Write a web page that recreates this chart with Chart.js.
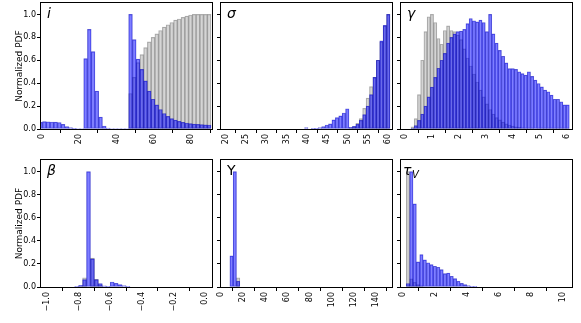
<!DOCTYPE html>
<html>
<head>
<meta charset="utf-8">
<script src="https://cdn.jsdelivr.net/npm/chart.js@4"></script>
<style>
  body { margin: 0; background: #fff; width: 581px; height: 323px; overflow: hidden; position: relative; }
  canvas { position: absolute; }
</style>
</head>
<body>
<canvas id="c-i"></canvas>
<canvas id="c-sigma"></canvas>
<canvas id="c-gamma"></canvas>
<canvas id="c-beta"></canvas>
<canvas id="c-ups"></canvas>
<canvas id="c-tau"></canvas>
<script>
// ---- data: histogram bins are [first bin centre, bin width] ----
const yTicks = [0, 0.2, 0.4, 0.6, 0.8, 1.0];

const iBins = [-0.5, 2];
const iTicks = [0, 20, 40, 60, 80];
const iBlue = [0.058, 0.065, 0.063, 0.061, 0.06, 0.057, 0.04, 0.022, 0.012, 0.006, 0.004, 0.004,
  0.615, 0.87, 0.675, 0.33, 0.104, 0.026, 0.008, 0.004, 0.004, 0.004, 0.004, 0.004,
  1.0, 0.78, 0.61, 0.52, 0.42, 0.33, 0.26, 0.21, 0.17, 0.135, 0.11, 0.09, 0.077, 0.066,
  0.058, 0.052, 0.047, 0.043, 0.04, 0.038, 0.036, 0.035];
const iGrey = [0, 0, 0, 0, 0, 0, 0, 0, 0, 0, 0, 0,
  0, 0, 0, 0, 0, 0, 0, 0, 0, 0, 0, 0,
  0.31, 0.45, 0.58, 0.65, 0.71, 0.76, 0.8, 0.83, 0.86, 0.89, 0.91, 0.93, 0.95, 0.96,
  0.975, 0.985, 0.995, 1.0, 1.0, 1.0, 1.0, 1.0];

const sigmaBins = [39.82, 0.84];
const sigmaTicks = [20, 25, 30, 35, 40, 45, 50, 55, 60];
const sigmaBlue = [0.012, 0, 0.003, 0.006, 0.012, 0.022, 0.035, 0.045, 0.08, 0.1, 0.115, 0.14, 0.177,
  0.015, 0.023, 0.04, 0.075, 0.125, 0.2, 0.3, 0.45, 0.6, 0.77, 0.905, 1.0];
const sigmaGrey = [0, 0, 0, 0, 0, 0, 0, 0, 0, 0, 0, 0, 0,
  0.01, 0.02, 0.05, 0.09, 0.18, 0.27, 0.37, 0.45, 0.6, 0.76, 0.9, 1.0];

const gammaBins = [0.16, 0.12];
const gammaTicks = [0, 1, 2, 3, 4, 5, 6];
const gammaBlue = [0, 0.005, 0.03, 0.075, 0.13, 0.2, 0.28, 0.365, 0.45, 0.53,
  0.6, 0.66, 0.75, 0.8, 0.83, 0.85, 0.855, 0.87, 0.92, 0.965,
  0.945, 0.935, 0.95, 0.93, 0.85, 1.0, 0.83, 0.75, 0.687, 0.635,
  0.577, 0.527, 0.527, 0.52, 0.5, 0.484, 0.47, 0.5, 0.46, 0.426,
  0.397, 0.368, 0.34, 0.325, 0.296, 0.26, 0.26, 0.238, 0.21, 0.21];
const gammaGrey = [0, 0.02, 0.09, 0.3, 0.6, 0.85, 0.98, 1.0, 0.93, 0.79,
  0.74, 0.86, 0.9, 0.86, 0.85, 0.82, 0.78, 0.7, 0.62, 0.55,
  0.48, 0.41, 0.34, 0.28, 0.22, 0.17, 0.13, 0.1, 0.08, 0.06,
  0.045, 0.035, 0.025, 0.02, 0.015, 0.01, 0.008, 0.006, 0.005, 0.004,
  0.003, 0.003, 0.002, 0.002, 0.002, 0.001, 0.001, 0.001, 0.001, 0.001];

const betaBins = [-0.8125, 0.025];
const betaTicks = [-1.0, -0.8, -0.6, -0.4, -0.2, 0.0];
const betaBlue = [0.006, 0.015, 0.064, 1.0, 0.243, 0.064, 0.03, 0.01, 0.003, 0.043, 0.032, 0.02, 0.012, 0.006];
const betaGrey = [0, 0.005, 0.08, 0, 0.25, 0.066, 0.02, 0, 0, 0, 0, 0, 0, 0];

const upsBins = [9.5, 3];
const upsTicks = [0, 20, 40, 60, 80, 100, 120, 140];
const upsBlue = [0.27, 1.0, 0.05];
const upsGrey = [0, 0, 0.08];

const tauBins = [0.125, 0.21];
const tauTicks = [0, 2, 4, 6, 8, 10];
const tauBlue = [0, 0.03, 1.0, 0.72, 0.217, 0.28, 0.235, 0.21, 0.194, 0.18, 0.171,
  0.15, 0.116, 0.12, 0.093, 0.072, 0.05, 0.032, 0.02, 0.012, 0.006, 0.003];
const tauGrey = [0, 1.0, 0.07, 0.04, 0.02, 0.01, 0, 0, 0, 0, 0,
  0, 0, 0, 0, 0, 0, 0, 0, 0, 0, 0];

// ---- layout ----
const PAD_TOP = 8, PAD_RIGHT = 8, Y_AXIS_W = 41, X_AXIS_H = 40;
const FONT = '"DejaVu Sans", sans-serif';

const panels = [
  { id: 'c-i', left: 41, top: 3, h: 126, xmin: -0.3, xmax: 91, ticks: iTicks, dec: 0,
    bins: iBins, blue: iBlue, grey: iGrey, first: true, label: 'i', dx: 6 },
  { id: 'c-sigma', left: 221, top: 3, h: 126, xmin: 18.85, xmax: 60.9, ticks: sigmaTicks, dec: 0,
    bins: sigmaBins, blue: sigmaBlue, grey: sigmaGrey, first: false, label: 'σ', dx: 6 },
  { id: 'c-gamma', left: 401, top: 3, h: 126, xmin: -0.15, xmax: 6.2, ticks: gammaTicks, dec: 0,
    bins: gammaBins, blue: gammaBlue, grey: gammaGrey, first: false, label: 'γ', dx: 6 },
  { id: 'c-beta', left: 41, top: 160, h: 127, xmin: -1.038, xmax: 0.044, ticks: betaTicks, dec: 1,
    bins: betaBins, blue: betaBlue, grey: betaGrey, first: true, label: 'β', dx: 6 },
  { id: 'c-ups', left: 221, top: 160, h: 127, xmin: 0, xmax: 154.7, ticks: upsTicks, dec: 0,
    bins: upsBins, blue: upsBlue, grey: upsGrey, first: false, label: 'Υ', upright: true, dx: 6 },
  { id: 'c-tau', left: 401, top: 160, h: 127, xmin: -0.1, xmax: 10.58, ticks: tauTicks, dec: 0,
    bins: tauBins, blue: tauBlue, grey: tauGrey, first: false, label: 'τ', sub: 'V', dx: 2 }
];
const PANEL_W = 171;

function points(bins, values) {
  return values.map((v, k) => ({ x: bins[0] + k * bins[1], y: v }));
}

// frame (all four spines) and the panel letter
const framePlugin = {
  id: 'frame',
  afterDraw(chart, args, opts) {
    const { ctx, chartArea: a } = chart;
    ctx.save();
    ctx.strokeStyle = '#000';
    ctx.lineWidth = 1;
    ctx.strokeRect(a.left - 0.5, a.top - 0.5, a.width + 1, a.height + 1);
    ctx.fillStyle = '#000';
    ctx.textBaseline = 'alphabetic';
    ctx.font = (opts.upright ? '' : 'italic ') + '14px ' + FONT;
    const x = a.left + opts.dx, y = a.top + 14.5;
    ctx.fillText(opts.text, x, y);
    if (opts.sub) {
      const w = ctx.measureText(opts.text).width;
      ctx.font = 'italic 10px ' + FONT;
      ctx.fillText(opts.sub, x + w + 0.5, y + 3);
    }
    ctx.restore();
  }
};

panels.forEach(p => {
  const canvas = document.getElementById(p.id);
  canvas.width = Y_AXIS_W + PANEL_W + PAD_RIGHT;
  canvas.height = PAD_TOP + p.h + X_AXIS_H;
  canvas.style.left = (p.left - Y_AXIS_W) + 'px';
  canvas.style.top = (p.top - PAD_TOP) + 'px';

  new Chart(canvas, {
    type: 'bar',
    data: {
      datasets: [
        {
          data: points(p.bins, p.blue), grouped: false, order: 0,
          backgroundColor: 'rgba(0, 0, 255, 0.5)', borderColor: 'rgba(0, 0, 170, 0.55)',
          borderWidth: 0.5, borderSkipped: false, barPercentage: 1, categoryPercentage: 1
        },
        {
          data: points(p.bins, p.grey), grouped: false, order: 1,
          backgroundColor: 'rgba(128, 128, 128, 0.33)', borderColor: 'rgba(90, 90, 90, 0.45)',
          borderWidth: 0.5, borderSkipped: false, barPercentage: 1, categoryPercentage: 1
        }
      ]
    },
    options: {
      responsive: false,
      animation: false,
      devicePixelRatio: 1,
      layout: { padding: { top: PAD_TOP, right: PAD_RIGHT, left: 0, bottom: 0 } },
      plugins: {
        legend: { display: false },
        tooltip: { enabled: false },
        frame: { text: p.label, sub: p.sub, upright: p.upright, dx: p.dx }
      },
      scales: {
        x: {
          type: 'linear', min: p.xmin, max: p.xmax, offset: false,
          afterBuildTicks: s => { s.ticks = p.ticks.map(v => ({ value: v })); },
          afterFit: s => { s.height = X_AXIS_H; },
          grid: { drawOnChartArea: false, drawTicks: true, tickLength: 4, color: '#000', lineWidth: 1 },
          border: { display: false },
          ticks: {
            autoSkip: false, minRotation: 90, maxRotation: 90, padding: 1, color: '#000',
            font: { family: FONT, size: 8 },
            callback: v => v.toFixed(p.dec).replace('-', '\u2212')
          }
        },
        y: {
          min: 0, max: 1.1,
          afterBuildTicks: s => { s.ticks = yTicks.map(v => ({ value: v })); },
          afterFit: s => { s.width = Y_AXIS_W; },
          grid: { drawOnChartArea: false, drawTicks: true, tickLength: 4, color: '#000', lineWidth: 1 },
          border: { display: false },
          ticks: {
            display: p.first, padding: 1, color: '#000',
            font: { family: FONT, size: 8 },
            callback: v => v.toFixed(1)
          },
          title: {
            display: p.first, text: 'Normalized PDF', color: '#000',
            font: { family: FONT, size: 9 }, padding: { top: 14, bottom: 0 }
          }
        }
      }
    },
    plugins: [framePlugin]
  });
});
</script>
</body>
</html>
